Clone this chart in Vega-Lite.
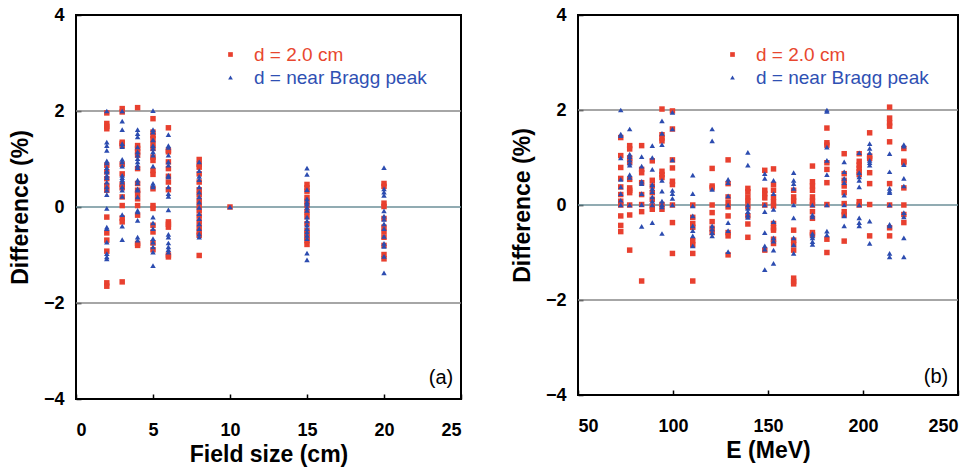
{
  "$schema": "https://vega.github.io/schema/vega-lite/v6.json",
  "background": "white",
  "padding": {"left": 8, "top": 5, "right": 5, "bottom": 5},
  "spacing": 47,
  "config": {
    "font": "Liberation Sans",
    "view": {"stroke": "black", "strokeWidth": 2},
    "axis": {"grid": false, "domain": false, "ticks": true, "tickSize": -5, "tickColor": "black", "tickWidth": 1.5,
      "labelFont": "Liberation Sans", "labelFontWeight": "bold", "labelFontSize": 18, "labelColor": "black",
      "titleFont": "Liberation Sans", "titleFontWeight": "bold", "titleFontSize": 23, "titleColor": "black"},
    "axisX": {"labelPadding": 27, "titlePadding": 4},
    "axisY": {"labelPadding": 17, "titlePadding": 11},
    "legend": {"orient": "none", "legendX": 145, "legendY": 30, "padding": 0, "title": null, "labelFont": "Liberation Sans",
      "labelFontSize": 19, "labelOffset": 14, "labelLimit": 400, "rowPadding": 3, "symbolSize": 22, "symbolStrokeWidth": 0,
      "labelColor": {"expr": "datum.value == '2.0 cm' ? '#e8472f' : '#2f50b3'"}}
  },
  "datasets": {
    "ref": [{"y": -2}, {"y": 0}, {"y": 2}],
    "fs": [
      {"f":2,"d":1.96,"s":"2.0 cm"},{"f":2,"d":1.74,"s":"2.0 cm"},{"f":2,"d":1.68,"s":"2.0 cm"},{"f":2,"d":1.63,"s":"2.0 cm"},{"f":2,"d":0.87,"s":"2.0 cm"},{"f":2,"d":0.73,"s":"2.0 cm"},{"f":2,"d":0.59,"s":"2.0 cm"},{"f":2,"d":0.45,"s":"2.0 cm"},{"f":2,"d":0.35,"s":"2.0 cm"},{"f":2,"d":-0.21,"s":"2.0 cm"},{"f":2,"d":-0.54,"s":"2.0 cm"},{"f":2,"d":-0.69,"s":"2.0 cm"},{"f":2,"d":-0.92,"s":"2.0 cm"},{"f":2,"d":-1.58,"s":"2.0 cm"},{"f":2,"d":-1.65,"s":"2.0 cm"},
      {"f":3,"d":2.05,"s":"2.0 cm"},{"f":3,"d":1.98,"s":"2.0 cm"},{"f":3,"d":1.35,"s":"2.0 cm"},{"f":3,"d":1.32,"s":"2.0 cm"},{"f":3,"d":1.28,"s":"2.0 cm"},{"f":3,"d":0.89,"s":"2.0 cm"},{"f":3,"d":0.69,"s":"2.0 cm"},{"f":3,"d":0.47,"s":"2.0 cm"},{"f":3,"d":0.40,"s":"2.0 cm"},{"f":3,"d":0.21,"s":"2.0 cm"},{"f":3,"d":0.03,"s":"2.0 cm"},{"f":3,"d":-0.23,"s":"2.0 cm"},{"f":3,"d":-0.31,"s":"2.0 cm"},{"f":3,"d":-1.56,"s":"2.0 cm"},
      {"f":4,"d":2.07,"s":"2.0 cm"},{"f":4,"d":1.28,"s":"2.0 cm"},{"f":4,"d":1.22,"s":"2.0 cm"},{"f":4,"d":1.15,"s":"2.0 cm"},{"f":4,"d":1.08,"s":"2.0 cm"},{"f":4,"d":0.80,"s":"2.0 cm"},{"f":4,"d":0.49,"s":"2.0 cm"},{"f":4,"d":0.35,"s":"2.0 cm"},{"f":4,"d":0.28,"s":"2.0 cm"},{"f":4,"d":0.17,"s":"2.0 cm"},{"f":4,"d":0.03,"s":"2.0 cm"},{"f":4,"d":-0.17,"s":"2.0 cm"},{"f":4,"d":-0.76,"s":"2.0 cm"},{"f":4,"d":-0.80,"s":"2.0 cm"},
      {"f":5,"d":1.84,"s":"2.0 cm"},{"f":5,"d":1.56,"s":"2.0 cm"},{"f":5,"d":1.49,"s":"2.0 cm"},{"f":5,"d":1.42,"s":"2.0 cm"},{"f":5,"d":1.32,"s":"2.0 cm"},{"f":5,"d":1.22,"s":"2.0 cm"},{"f":5,"d":1.04,"s":"2.0 cm"},{"f":5,"d":0.97,"s":"2.0 cm"},{"f":5,"d":0.76,"s":"2.0 cm"},{"f":5,"d":0.68,"s":"2.0 cm"},{"f":5,"d":0.38,"s":"2.0 cm"},{"f":5,"d":0.03,"s":"2.0 cm"},{"f":5,"d":-0.03,"s":"2.0 cm"},{"f":5,"d":-0.38,"s":"2.0 cm"},{"f":5,"d":-0.52,"s":"2.0 cm"},{"f":5,"d":-0.75,"s":"2.0 cm"},{"f":5,"d":-0.89,"s":"2.0 cm"},
      {"f":6,"d":1.65,"s":"2.0 cm"},{"f":6,"d":1.18,"s":"2.0 cm"},{"f":6,"d":1.15,"s":"2.0 cm"},{"f":6,"d":0.94,"s":"2.0 cm"},{"f":6,"d":0.80,"s":"2.0 cm"},{"f":6,"d":0.64,"s":"2.0 cm"},{"f":6,"d":0.52,"s":"2.0 cm"},{"f":6,"d":0.36,"s":"2.0 cm"},{"f":6,"d":-0.31,"s":"2.0 cm"},{"f":6,"d":-0.36,"s":"2.0 cm"},{"f":6,"d":-0.42,"s":"2.0 cm"},{"f":6,"d":-1.00,"s":"2.0 cm"},{"f":6,"d":-1.04,"s":"2.0 cm"},
      {"f":8,"d":0.99,"s":"2.0 cm"},{"f":8,"d":0.89,"s":"2.0 cm"},{"f":8,"d":0.83,"s":"2.0 cm"},{"f":8,"d":0.69,"s":"2.0 cm"},{"f":8,"d":0.52,"s":"2.0 cm"},{"f":8,"d":0.36,"s":"2.0 cm"},{"f":8,"d":0.26,"s":"2.0 cm"},{"f":8,"d":0.14,"s":"2.0 cm"},{"f":8,"d":0.03,"s":"2.0 cm"},{"f":8,"d":-0.07,"s":"2.0 cm"},{"f":8,"d":-0.19,"s":"2.0 cm"},{"f":8,"d":-0.31,"s":"2.0 cm"},{"f":8,"d":-0.42,"s":"2.0 cm"},{"f":8,"d":-0.52,"s":"2.0 cm"},{"f":8,"d":-0.59,"s":"2.0 cm"},{"f":8,"d":-1.01,"s":"2.0 cm"},
      {"f":10,"d":0,"s":"2.0 cm"},
      {"f":15,"d":0.47,"s":"2.0 cm"},{"f":15,"d":0.40,"s":"2.0 cm"},{"f":15,"d":0.33,"s":"2.0 cm"},{"f":15,"d":0.20,"s":"2.0 cm"},{"f":15,"d":0.12,"s":"2.0 cm"},{"f":15,"d":0.03,"s":"2.0 cm"},{"f":15,"d":-0.10,"s":"2.0 cm"},{"f":15,"d":-0.20,"s":"2.0 cm"},{"f":15,"d":-0.35,"s":"2.0 cm"},{"f":15,"d":-0.49,"s":"2.0 cm"},{"f":15,"d":-0.56,"s":"2.0 cm"},{"f":15,"d":-0.63,"s":"2.0 cm"},{"f":15,"d":-0.70,"s":"2.0 cm"},{"f":15,"d":-0.78,"s":"2.0 cm"},
      {"f":20,"d":0.49,"s":"2.0 cm"},{"f":20,"d":0.43,"s":"2.0 cm"},{"f":20,"d":0.08,"s":"2.0 cm"},{"f":20,"d":0.01,"s":"2.0 cm"},{"f":20,"d":-0.24,"s":"2.0 cm"},{"f":20,"d":-0.42,"s":"2.0 cm"},{"f":20,"d":-0.52,"s":"2.0 cm"},{"f":20,"d":-0.63,"s":"2.0 cm"},{"f":20,"d":-0.80,"s":"2.0 cm"},{"f":20,"d":-0.99,"s":"2.0 cm"},{"f":20,"d":-1.08,"s":"2.0 cm"},
      {"f":2,"d":2.0,"s":"near Bragg peak"},{"f":2,"d":1.35,"s":"near Bragg peak"},{"f":2,"d":1.28,"s":"near Bragg peak"},{"f":2,"d":1.18,"s":"near Bragg peak"},{"f":2,"d":0.96,"s":"near Bragg peak"},{"f":2,"d":0.92,"s":"near Bragg peak"},{"f":2,"d":0.82,"s":"near Bragg peak"},{"f":2,"d":0.76,"s":"near Bragg peak"},{"f":2,"d":0.73,"s":"near Bragg peak"},{"f":2,"d":0.66,"s":"near Bragg peak"},{"f":2,"d":0.61,"s":"near Bragg peak"},{"f":2,"d":0.52,"s":"near Bragg peak"},{"f":2,"d":0.42,"s":"near Bragg peak"},{"f":2,"d":0.35,"s":"near Bragg peak"},{"f":2,"d":0.26,"s":"near Bragg peak"},{"f":2,"d":-0.03,"s":"near Bragg peak"},{"f":2,"d":-0.42,"s":"near Bragg peak"},{"f":2,"d":-0.45,"s":"near Bragg peak"},{"f":2,"d":-0.73,"s":"near Bragg peak"},{"f":2,"d":-0.97,"s":"near Bragg peak"},{"f":2,"d":-1.04,"s":"near Bragg peak"},{"f":2,"d":-1.08,"s":"near Bragg peak"},
      {"f":3,"d":2.0,"s":"near Bragg peak"},{"f":3,"d":1.79,"s":"near Bragg peak"},{"f":3,"d":1.61,"s":"near Bragg peak"},{"f":3,"d":1.32,"s":"near Bragg peak"},{"f":3,"d":1.26,"s":"near Bragg peak"},{"f":3,"d":0.99,"s":"near Bragg peak"},{"f":3,"d":0.94,"s":"near Bragg peak"},{"f":3,"d":0.85,"s":"near Bragg peak"},{"f":3,"d":0.66,"s":"near Bragg peak"},{"f":3,"d":0.61,"s":"near Bragg peak"},{"f":3,"d":0.57,"s":"near Bragg peak"},{"f":3,"d":0.52,"s":"near Bragg peak"},{"f":3,"d":0.42,"s":"near Bragg peak"},{"f":3,"d":0.35,"s":"near Bragg peak"},{"f":3,"d":0.22,"s":"near Bragg peak"},{"f":3,"d":-0.16,"s":"near Bragg peak"},{"f":3,"d":-0.40,"s":"near Bragg peak"},{"f":3,"d":-0.68,"s":"near Bragg peak"},
      {"f":4,"d":1.61,"s":"near Bragg peak"},{"f":4,"d":1.53,"s":"near Bragg peak"},{"f":4,"d":1.46,"s":"near Bragg peak"},{"f":4,"d":1.25,"s":"near Bragg peak"},{"f":4,"d":1.15,"s":"near Bragg peak"},{"f":4,"d":1.08,"s":"near Bragg peak"},{"f":4,"d":1.01,"s":"near Bragg peak"},{"f":4,"d":0.94,"s":"near Bragg peak"},{"f":4,"d":0.87,"s":"near Bragg peak"},{"f":4,"d":0.82,"s":"near Bragg peak"},{"f":4,"d":0.56,"s":"near Bragg peak"},{"f":4,"d":0.50,"s":"near Bragg peak"},{"f":4,"d":0.38,"s":"near Bragg peak"},{"f":4,"d":0.35,"s":"near Bragg peak"},{"f":4,"d":0.21,"s":"near Bragg peak"},{"f":4,"d":-0.07,"s":"near Bragg peak"},{"f":4,"d":-0.10,"s":"near Bragg peak"},{"f":4,"d":-0.28,"s":"near Bragg peak"},{"f":4,"d":-0.63,"s":"near Bragg peak"},{"f":4,"d":-0.69,"s":"near Bragg peak"},
      {"f":5,"d":2.01,"s":"near Bragg peak"},{"f":5,"d":1.61,"s":"near Bragg peak"},{"f":5,"d":1.56,"s":"near Bragg peak"},{"f":5,"d":1.40,"s":"near Bragg peak"},{"f":5,"d":1.28,"s":"near Bragg peak"},{"f":5,"d":1.22,"s":"near Bragg peak"},{"f":5,"d":1.15,"s":"near Bragg peak"},{"f":5,"d":1.08,"s":"near Bragg peak"},{"f":5,"d":0.85,"s":"near Bragg peak"},{"f":5,"d":0.49,"s":"near Bragg peak"},{"f":5,"d":0.45,"s":"near Bragg peak"},{"f":5,"d":0.42,"s":"near Bragg peak"},{"f":5,"d":-0.21,"s":"near Bragg peak"},{"f":5,"d":-0.33,"s":"near Bragg peak"},{"f":5,"d":-0.45,"s":"near Bragg peak"},{"f":5,"d":-0.66,"s":"near Bragg peak"},{"f":5,"d":-0.73,"s":"near Bragg peak"},{"f":5,"d":-0.83,"s":"near Bragg peak"},{"f":5,"d":-0.94,"s":"near Bragg peak"},{"f":5,"d":-1.22,"s":"near Bragg peak"},
      {"f":6,"d":1.51,"s":"near Bragg peak"},{"f":6,"d":1.28,"s":"near Bragg peak"},{"f":6,"d":1.24,"s":"near Bragg peak"},{"f":6,"d":1.08,"s":"near Bragg peak"},{"f":6,"d":0.94,"s":"near Bragg peak"},{"f":6,"d":0.87,"s":"near Bragg peak"},{"f":6,"d":0.66,"s":"near Bragg peak"},{"f":6,"d":0.63,"s":"near Bragg peak"},{"f":6,"d":0.42,"s":"near Bragg peak"},{"f":6,"d":0.28,"s":"near Bragg peak"},{"f":6,"d":0.22,"s":"near Bragg peak"},{"f":6,"d":-0.06,"s":"near Bragg peak"},{"f":6,"d":-0.57,"s":"near Bragg peak"},{"f":6,"d":-0.63,"s":"near Bragg peak"},{"f":6,"d":-0.75,"s":"near Bragg peak"},{"f":6,"d":-0.83,"s":"near Bragg peak"},{"f":6,"d":-0.89,"s":"near Bragg peak"},{"f":6,"d":-0.94,"s":"near Bragg peak"},
      {"f":8,"d":0.94,"s":"near Bragg peak"},{"f":8,"d":0.76,"s":"near Bragg peak"},{"f":8,"d":0.64,"s":"near Bragg peak"},{"f":8,"d":0.57,"s":"near Bragg peak"},{"f":8,"d":0.42,"s":"near Bragg peak"},{"f":8,"d":0.31,"s":"near Bragg peak"},{"f":8,"d":0.21,"s":"near Bragg peak"},{"f":8,"d":0.10,"s":"near Bragg peak"},{"f":8,"d":-0.01,"s":"near Bragg peak"},{"f":8,"d":-0.14,"s":"near Bragg peak"},{"f":8,"d":-0.24,"s":"near Bragg peak"},{"f":8,"d":-0.35,"s":"near Bragg peak"},{"f":8,"d":-0.45,"s":"near Bragg peak"},{"f":8,"d":-0.56,"s":"near Bragg peak"},{"f":8,"d":-0.63,"s":"near Bragg peak"},
      {"f":10,"d":0,"s":"near Bragg peak"},
      {"f":15,"d":0.81,"s":"near Bragg peak"},{"f":15,"d":0.68,"s":"near Bragg peak"},{"f":15,"d":0.36,"s":"near Bragg peak"},{"f":15,"d":0.17,"s":"near Bragg peak"},{"f":15,"d":0.10,"s":"near Bragg peak"},{"f":15,"d":0.06,"s":"near Bragg peak"},{"f":15,"d":-0.01,"s":"near Bragg peak"},{"f":15,"d":-0.07,"s":"near Bragg peak"},{"f":15,"d":-0.21,"s":"near Bragg peak"},{"f":15,"d":-0.29,"s":"near Bragg peak"},{"f":15,"d":-0.38,"s":"near Bragg peak"},{"f":15,"d":-0.45,"s":"near Bragg peak"},{"f":15,"d":-0.52,"s":"near Bragg peak"},{"f":15,"d":-0.59,"s":"near Bragg peak"},{"f":15,"d":-0.66,"s":"near Bragg peak"},{"f":15,"d":-0.96,"s":"near Bragg peak"},{"f":15,"d":-1.10,"s":"near Bragg peak"},
      {"f":20,"d":0.82,"s":"near Bragg peak"},{"f":20,"d":0.38,"s":"near Bragg peak"},{"f":20,"d":0.31,"s":"near Bragg peak"},{"f":20,"d":0.24,"s":"near Bragg peak"},{"f":20,"d":-0.08,"s":"near Bragg peak"},{"f":20,"d":-0.19,"s":"near Bragg peak"},{"f":20,"d":-0.26,"s":"near Bragg peak"},{"f":20,"d":-0.35,"s":"near Bragg peak"},{"f":20,"d":-0.45,"s":"near Bragg peak"},{"f":20,"d":-0.61,"s":"near Bragg peak"},{"f":20,"d":-0.76,"s":"near Bragg peak"},{"f":20,"d":-0.82,"s":"near Bragg peak"},{"f":20,"d":-1.03,"s":"near Bragg peak"},{"f":20,"d":-1.37,"s":"near Bragg peak"}
    ],
    "en": [
      {"e":72.5,"d":1.42,"s":"2.0 cm"},{"e":72.5,"d":1.04,"s":"2.0 cm"},{"e":72.5,"d":0.79,"s":"2.0 cm"},{"e":72.5,"d":0.56,"s":"2.0 cm"},{"e":72.5,"d":0.38,"s":"2.0 cm"},{"e":72.5,"d":0.22,"s":"2.0 cm"},{"e":72.5,"d":0.08,"s":"2.0 cm"},{"e":72.5,"d":0,"s":"2.0 cm"},{"e":72.5,"d":-0.23,"s":"2.0 cm"},{"e":72.5,"d":-0.43,"s":"2.0 cm"},{"e":72.5,"d":-0.56,"s":"2.0 cm"},
      {"e":77.2,"d":1.25,"s":"2.0 cm"},{"e":77.2,"d":1.18,"s":"2.0 cm"},{"e":77.2,"d":0.99,"s":"2.0 cm"},{"e":77.2,"d":0.9,"s":"2.0 cm"},{"e":77.2,"d":0.54,"s":"2.0 cm"},{"e":77.2,"d":0.36,"s":"2.0 cm"},{"e":77.2,"d":0.31,"s":"2.0 cm"},{"e":77.2,"d":0.26,"s":"2.0 cm"},{"e":77.2,"d":0,"s":"2.0 cm"},{"e":77.2,"d":-0.21,"s":"2.0 cm"},{"e":77.2,"d":-0.95,"s":"2.0 cm"},
      {"e":83.5,"d":1.25,"s":"2.0 cm"},{"e":83.5,"d":0.75,"s":"2.0 cm"},{"e":83.5,"d":0.68,"s":"2.0 cm"},{"e":83.5,"d":0.47,"s":"2.0 cm"},{"e":83.5,"d":0.22,"s":"2.0 cm"},{"e":83.5,"d":0.01,"s":"2.0 cm"},{"e":83.5,"d":-0.14,"s":"2.0 cm"},{"e":83.5,"d":-1.6,"s":"2.0 cm"},
      {"e":89.1,"d":0.93,"s":"2.0 cm"},{"e":89.1,"d":0.52,"s":"2.0 cm"},{"e":89.1,"d":0.4,"s":"2.0 cm"},{"e":89.1,"d":0.26,"s":"2.0 cm"},{"e":89.1,"d":0.12,"s":"2.0 cm"},{"e":89.1,"d":-0.02,"s":"2.0 cm"},{"e":89.1,"d":-0.09,"s":"2.0 cm"},
      {"e":94.2,"d":2.02,"s":"2.0 cm"},{"e":94.2,"d":1.48,"s":"2.0 cm"},{"e":94.2,"d":1.41,"s":"2.0 cm"},{"e":94.2,"d":1.35,"s":"2.0 cm"},{"e":94.2,"d":0.71,"s":"2.0 cm"},{"e":94.2,"d":0.64,"s":"2.0 cm"},{"e":94.2,"d":0.58,"s":"2.0 cm"},{"e":94.2,"d":0.01,"s":"2.0 cm"},{"e":94.2,"d":-0.09,"s":"2.0 cm"},
      {"e":99.7,"d":1.98,"s":"2.0 cm"},{"e":99.7,"d":1.6,"s":"2.0 cm"},{"e":99.7,"d":0.95,"s":"2.0 cm"},{"e":99.7,"d":0.78,"s":"2.0 cm"},{"e":99.7,"d":0.5,"s":"2.0 cm"},{"e":99.7,"d":0.43,"s":"2.0 cm"},{"e":99.7,"d":0,"s":"2.0 cm"},{"e":99.7,"d":-0.37,"s":"2.0 cm"},{"e":99.7,"d":-1.02,"s":"2.0 cm"},
      {"e":110.4,"d":0,"s":"2.0 cm"},{"e":110.4,"d":-0.26,"s":"2.0 cm"},{"e":110.4,"d":-0.39,"s":"2.0 cm"},{"e":110.4,"d":-0.47,"s":"2.0 cm"},{"e":110.4,"d":-0.75,"s":"2.0 cm"},{"e":110.4,"d":-0.84,"s":"2.0 cm"},{"e":110.4,"d":-1.02,"s":"2.0 cm"},{"e":110.4,"d":-1.6,"s":"2.0 cm"},
      {"e":120.6,"d":0.77,"s":"2.0 cm"},{"e":120.6,"d":0.4,"s":"2.0 cm"},{"e":120.6,"d":0.36,"s":"2.0 cm"},{"e":120.6,"d":0,"s":"2.0 cm"},{"e":120.6,"d":-0.16,"s":"2.0 cm"},{"e":120.6,"d":-0.35,"s":"2.0 cm"},{"e":120.6,"d":-0.49,"s":"2.0 cm"},{"e":120.6,"d":-0.58,"s":"2.0 cm"},
      {"e":129.0,"d":0.95,"s":"2.0 cm"},{"e":129.0,"d":0.45,"s":"2.0 cm"},{"e":129.0,"d":0.17,"s":"2.0 cm"},{"e":129.0,"d":0.05,"s":"2.0 cm"},{"e":129.0,"d":-0.04,"s":"2.0 cm"},{"e":129.0,"d":-0.23,"s":"2.0 cm"},{"e":129.0,"d":-0.58,"s":"2.0 cm"},{"e":129.0,"d":-0.65,"s":"2.0 cm"},{"e":129.0,"d":-1.05,"s":"2.0 cm"},
      {"e":139.4,"d":0.35,"s":"2.0 cm"},{"e":139.4,"d":0.28,"s":"2.0 cm"},{"e":139.4,"d":0.17,"s":"2.0 cm"},{"e":139.4,"d":0.08,"s":"2.0 cm"},{"e":139.4,"d":-0.04,"s":"2.0 cm"},{"e":139.4,"d":-0.23,"s":"2.0 cm"},{"e":139.4,"d":-0.4,"s":"2.0 cm"},{"e":139.4,"d":-0.68,"s":"2.0 cm"},
      {"e":148.3,"d":0.73,"s":"2.0 cm"},{"e":148.3,"d":0.31,"s":"2.0 cm"},{"e":148.3,"d":0.24,"s":"2.0 cm"},{"e":148.3,"d":0.15,"s":"2.0 cm"},{"e":148.3,"d":0,"s":"2.0 cm"},{"e":148.3,"d":-0.95,"s":"2.0 cm"},
      {"e":152.9,"d":0.76,"s":"2.0 cm"},{"e":152.9,"d":0.43,"s":"2.0 cm"},{"e":152.9,"d":0.31,"s":"2.0 cm"},{"e":152.9,"d":0.17,"s":"2.0 cm"},{"e":152.9,"d":0.07,"s":"2.0 cm"},{"e":152.9,"d":-0.02,"s":"2.0 cm"},{"e":152.9,"d":-0.39,"s":"2.0 cm"},{"e":152.9,"d":-0.48,"s":"2.0 cm"},{"e":152.9,"d":-0.53,"s":"2.0 cm"},{"e":152.9,"d":-0.72,"s":"2.0 cm"},{"e":152.9,"d":-0.81,"s":"2.0 cm"},
      {"e":163.5,"d":0.31,"s":"2.0 cm"},{"e":163.5,"d":0.17,"s":"2.0 cm"},{"e":163.5,"d":0.08,"s":"2.0 cm"},{"e":163.5,"d":-0.53,"s":"2.0 cm"},{"e":163.5,"d":-0.74,"s":"2.0 cm"},{"e":163.5,"d":-0.83,"s":"2.0 cm"},{"e":163.5,"d":-0.95,"s":"2.0 cm"},{"e":163.5,"d":-1.54,"s":"2.0 cm"},{"e":163.5,"d":-1.61,"s":"2.0 cm"},{"e":163.5,"d":-1.66,"s":"2.0 cm"},
      {"e":173.4,"d":0.82,"s":"2.0 cm"},{"e":173.4,"d":0.49,"s":"2.0 cm"},{"e":173.4,"d":0.4,"s":"2.0 cm"},{"e":173.4,"d":0.31,"s":"2.0 cm"},{"e":173.4,"d":0.17,"s":"2.0 cm"},{"e":173.4,"d":0.08,"s":"2.0 cm"},{"e":173.4,"d":0,"s":"2.0 cm"},{"e":173.4,"d":-0.14,"s":"2.0 cm"},{"e":173.4,"d":-0.28,"s":"2.0 cm"},{"e":173.4,"d":-0.58,"s":"2.0 cm"},{"e":173.4,"d":-0.63,"s":"2.0 cm"},
      {"e":181.0,"d":1.62,"s":"2.0 cm"},{"e":181.0,"d":1.31,"s":"2.0 cm"},{"e":181.0,"d":1.26,"s":"2.0 cm"},{"e":181.0,"d":0.89,"s":"2.0 cm"},{"e":181.0,"d":0.75,"s":"2.0 cm"},{"e":181.0,"d":0.47,"s":"2.0 cm"},{"e":181.0,"d":0.01,"s":"2.0 cm"},{"e":181.0,"d":-0.72,"s":"2.0 cm"},{"e":181.0,"d":-1.0,"s":"2.0 cm"},
      {"e":190.1,"d":1.08,"s":"2.0 cm"},{"e":190.1,"d":0.66,"s":"2.0 cm"},{"e":190.1,"d":0.52,"s":"2.0 cm"},{"e":190.1,"d":0.4,"s":"2.0 cm"},{"e":190.1,"d":0.26,"s":"2.0 cm"},{"e":190.1,"d":0.03,"s":"2.0 cm"},{"e":190.1,"d":-0.14,"s":"2.0 cm"},{"e":190.1,"d":-0.21,"s":"2.0 cm"},{"e":190.1,"d":-0.76,"s":"2.0 cm"},
      {"e":198.0,"d":1.08,"s":"2.0 cm"},{"e":198.0,"d":0.92,"s":"2.0 cm"},{"e":198.0,"d":0.84,"s":"2.0 cm"},{"e":198.0,"d":0.77,"s":"2.0 cm"},{"e":198.0,"d":0.7,"s":"2.0 cm"},{"e":198.0,"d":0.64,"s":"2.0 cm"},{"e":198.0,"d":0.07,"s":"2.0 cm"},{"e":198.0,"d":0,"s":"2.0 cm"},
      {"e":203.5,"d":1.52,"s":"2.0 cm"},{"e":203.5,"d":1.03,"s":"2.0 cm"},{"e":203.5,"d":0.98,"s":"2.0 cm"},{"e":203.5,"d":0.68,"s":"2.0 cm"},{"e":203.5,"d":0.45,"s":"2.0 cm"},{"e":203.5,"d":0.01,"s":"2.0 cm"},{"e":203.5,"d":-0.65,"s":"2.0 cm"},
      {"e":214.0,"d":2.06,"s":"2.0 cm"},{"e":214.0,"d":1.83,"s":"2.0 cm"},{"e":214.0,"d":1.73,"s":"2.0 cm"},{"e":214.0,"d":1.66,"s":"2.0 cm"},{"e":214.0,"d":1.33,"s":"2.0 cm"},{"e":214.0,"d":0.45,"s":"2.0 cm"},{"e":214.0,"d":0,"s":"2.0 cm"},{"e":214.0,"d":-0.48,"s":"2.0 cm"},{"e":214.0,"d":-0.65,"s":"2.0 cm"},
      {"e":221.5,"d":1.19,"s":"2.0 cm"},{"e":221.5,"d":0.92,"s":"2.0 cm"},{"e":221.5,"d":0.89,"s":"2.0 cm"},{"e":221.5,"d":0.36,"s":"2.0 cm"},{"e":221.5,"d":0,"s":"2.0 cm"},{"e":221.5,"d":-0.2,"s":"2.0 cm"},{"e":221.5,"d":-0.37,"s":"2.0 cm"},
      {"e":72.5,"d":2.0,"s":"near Bragg peak"},{"e":72.5,"d":1.49,"s":"near Bragg peak"},{"e":72.5,"d":1.46,"s":"near Bragg peak"},{"e":72.5,"d":0.99,"s":"near Bragg peak"},{"e":72.5,"d":0.54,"s":"near Bragg peak"},{"e":72.5,"d":0.38,"s":"near Bragg peak"},{"e":72.5,"d":0.24,"s":"near Bragg peak"},{"e":72.5,"d":0.1,"s":"near Bragg peak"},{"e":72.5,"d":0,"s":"near Bragg peak"},
      {"e":77.2,"d":1.6,"s":"near Bragg peak"},{"e":77.2,"d":1.07,"s":"near Bragg peak"},{"e":77.2,"d":1.02,"s":"near Bragg peak"},{"e":77.2,"d":0.95,"s":"near Bragg peak"},{"e":77.2,"d":0.88,"s":"near Bragg peak"},{"e":77.2,"d":0.84,"s":"near Bragg peak"},{"e":77.2,"d":0.64,"s":"near Bragg peak"},{"e":77.2,"d":0.58,"s":"near Bragg peak"},{"e":77.2,"d":0,"s":"near Bragg peak"},
      {"e":83.5,"d":1.02,"s":"near Bragg peak"},{"e":83.5,"d":0.82,"s":"near Bragg peak"},{"e":83.5,"d":0.5,"s":"near Bragg peak"},{"e":83.5,"d":0.45,"s":"near Bragg peak"},{"e":83.5,"d":0.24,"s":"near Bragg peak"},{"e":83.5,"d":0.01,"s":"near Bragg peak"},{"e":83.5,"d":-0.45,"s":"near Bragg peak"},
      {"e":89.1,"d":1.25,"s":"near Bragg peak"},{"e":89.1,"d":1.0,"s":"near Bragg peak"},{"e":89.1,"d":0.75,"s":"near Bragg peak"},{"e":89.1,"d":0.43,"s":"near Bragg peak"},{"e":89.1,"d":0.35,"s":"near Bragg peak"},{"e":89.1,"d":0.28,"s":"near Bragg peak"},{"e":89.1,"d":0.17,"s":"near Bragg peak"},{"e":89.1,"d":0.08,"s":"near Bragg peak"},{"e":89.1,"d":0,"s":"near Bragg peak"},{"e":89.1,"d":-0.37,"s":"near Bragg peak"},
      {"e":94.2,"d":1.77,"s":"near Bragg peak"},{"e":94.2,"d":1.51,"s":"near Bragg peak"},{"e":94.2,"d":1.27,"s":"near Bragg peak"},{"e":94.2,"d":0.52,"s":"near Bragg peak"},{"e":94.2,"d":0.29,"s":"near Bragg peak"},{"e":94.2,"d":0.08,"s":"near Bragg peak"},{"e":94.2,"d":0.01,"s":"near Bragg peak"},{"e":94.2,"d":-0.04,"s":"near Bragg peak"},{"e":94.2,"d":-0.6,"s":"near Bragg peak"},
      {"e":99.7,"d":1.95,"s":"near Bragg peak"},{"e":99.7,"d":1.6,"s":"near Bragg peak"},{"e":99.7,"d":0.95,"s":"near Bragg peak"},{"e":99.7,"d":0.31,"s":"near Bragg peak"},{"e":99.7,"d":0.24,"s":"near Bragg peak"},{"e":99.7,"d":0.14,"s":"near Bragg peak"},{"e":99.7,"d":0,"s":"near Bragg peak"},
      {"e":110.4,"d":0.63,"s":"near Bragg peak"},{"e":110.4,"d":0.24,"s":"near Bragg peak"},{"e":110.4,"d":-0.02,"s":"near Bragg peak"},{"e":110.4,"d":-0.23,"s":"near Bragg peak"},{"e":110.4,"d":-0.44,"s":"near Bragg peak"},{"e":110.4,"d":-0.54,"s":"near Bragg peak"},{"e":110.4,"d":-0.65,"s":"near Bragg peak"},{"e":110.4,"d":-0.86,"s":"near Bragg peak"},
      {"e":120.6,"d":1.6,"s":"near Bragg peak"},{"e":120.6,"d":1.35,"s":"near Bragg peak"},{"e":120.6,"d":0.33,"s":"near Bragg peak"},{"e":120.6,"d":-0.44,"s":"near Bragg peak"},{"e":120.6,"d":-0.51,"s":"near Bragg peak"},{"e":120.6,"d":-0.58,"s":"near Bragg peak"},{"e":120.6,"d":-0.65,"s":"near Bragg peak"},
      {"e":129.0,"d":0.54,"s":"near Bragg peak"},{"e":129.0,"d":0.47,"s":"near Bragg peak"},{"e":129.0,"d":0.19,"s":"near Bragg peak"},{"e":129.0,"d":0,"s":"near Bragg peak"},{"e":129.0,"d":-0.37,"s":"near Bragg peak"},{"e":129.0,"d":-0.54,"s":"near Bragg peak"},{"e":129.0,"d":-0.98,"s":"near Bragg peak"},
      {"e":139.4,"d":1.11,"s":"near Bragg peak"},{"e":139.4,"d":0.84,"s":"near Bragg peak"},{"e":139.4,"d":0,"s":"near Bragg peak"},{"e":139.4,"d":-0.07,"s":"near Bragg peak"},{"e":139.4,"d":-0.14,"s":"near Bragg peak"},{"e":139.4,"d":-0.21,"s":"near Bragg peak"},{"e":139.4,"d":-0.26,"s":"near Bragg peak"},
      {"e":148.3,"d":0.66,"s":"near Bragg peak"},{"e":148.3,"d":0.56,"s":"near Bragg peak"},{"e":148.3,"d":0,"s":"near Bragg peak"},{"e":148.3,"d":-0.14,"s":"near Bragg peak"},{"e":148.3,"d":-0.58,"s":"near Bragg peak"},{"e":148.3,"d":-0.86,"s":"near Bragg peak"},{"e":148.3,"d":-0.93,"s":"near Bragg peak"},{"e":148.3,"d":-1.36,"s":"near Bragg peak"},
      {"e":152.9,"d":0.52,"s":"near Bragg peak"},{"e":152.9,"d":0.24,"s":"near Bragg peak"},{"e":152.9,"d":-0.09,"s":"near Bragg peak"},{"e":152.9,"d":-0.35,"s":"near Bragg peak"},{"e":152.9,"d":-0.69,"s":"near Bragg peak"},{"e":152.9,"d":-0.76,"s":"near Bragg peak"},{"e":152.9,"d":-0.95,"s":"near Bragg peak"},{"e":152.9,"d":-1.23,"s":"near Bragg peak"},
      {"e":163.5,"d":0.68,"s":"near Bragg peak"},{"e":163.5,"d":0.52,"s":"near Bragg peak"},{"e":163.5,"d":0.45,"s":"near Bragg peak"},{"e":163.5,"d":0.35,"s":"near Bragg peak"},{"e":163.5,"d":0,"s":"near Bragg peak"},{"e":163.5,"d":-0.27,"s":"near Bragg peak"},{"e":163.5,"d":-0.69,"s":"near Bragg peak"},{"e":163.5,"d":-0.84,"s":"near Bragg peak"},{"e":163.5,"d":-1.02,"s":"near Bragg peak"},
      {"e":173.4,"d":0,"s":"near Bragg peak"},{"e":173.4,"d":-0.21,"s":"near Bragg peak"},{"e":173.4,"d":-0.25,"s":"near Bragg peak"},{"e":173.4,"d":-0.6,"s":"near Bragg peak"},{"e":173.4,"d":-0.65,"s":"near Bragg peak"},{"e":173.4,"d":-0.69,"s":"near Bragg peak"},{"e":173.4,"d":-0.77,"s":"near Bragg peak"},{"e":173.4,"d":-0.83,"s":"near Bragg peak"},
      {"e":181.0,"d":2.0,"s":"near Bragg peak"},{"e":181.0,"d":1.97,"s":"near Bragg peak"},{"e":181.0,"d":1.22,"s":"near Bragg peak"},{"e":181.0,"d":0.94,"s":"near Bragg peak"},{"e":181.0,"d":0.64,"s":"near Bragg peak"},{"e":181.0,"d":0,"s":"near Bragg peak"},{"e":181.0,"d":-0.55,"s":"near Bragg peak"},{"e":181.0,"d":-0.63,"s":"near Bragg peak"},
      {"e":190.1,"d":0.91,"s":"near Bragg peak"},{"e":190.1,"d":0.7,"s":"near Bragg peak"},{"e":190.1,"d":0.56,"s":"near Bragg peak"},{"e":190.1,"d":0.47,"s":"near Bragg peak"},{"e":190.1,"d":0.21,"s":"near Bragg peak"},{"e":190.1,"d":0,"s":"near Bragg peak"},{"e":190.1,"d":-0.23,"s":"near Bragg peak"},{"e":190.1,"d":-0.44,"s":"near Bragg peak"},
      {"e":198.0,"d":1.1,"s":"near Bragg peak"},{"e":198.0,"d":0.68,"s":"near Bragg peak"},{"e":198.0,"d":0.59,"s":"near Bragg peak"},{"e":198.0,"d":0.52,"s":"near Bragg peak"},{"e":198.0,"d":0.38,"s":"near Bragg peak"},{"e":198.0,"d":0,"s":"near Bragg peak"},{"e":198.0,"d":-0.27,"s":"near Bragg peak"},{"e":198.0,"d":-0.37,"s":"near Bragg peak"},{"e":198.0,"d":-0.44,"s":"near Bragg peak"},
      {"e":203.5,"d":1.29,"s":"near Bragg peak"},{"e":203.5,"d":1.19,"s":"near Bragg peak"},{"e":203.5,"d":1.1,"s":"near Bragg peak"},{"e":203.5,"d":0.94,"s":"near Bragg peak"},{"e":203.5,"d":0.89,"s":"near Bragg peak"},{"e":203.5,"d":0.84,"s":"near Bragg peak"},{"e":203.5,"d":-0.34,"s":"near Bragg peak"},{"e":203.5,"d":-0.81,"s":"near Bragg peak"},
      {"e":214.0,"d":1.08,"s":"near Bragg peak"},{"e":214.0,"d":0.7,"s":"near Bragg peak"},{"e":214.0,"d":0.35,"s":"near Bragg peak"},{"e":214.0,"d":0.29,"s":"near Bragg peak"},{"e":214.0,"d":0.26,"s":"near Bragg peak"},{"e":214.0,"d":0,"s":"near Bragg peak"},{"e":214.0,"d":-0.41,"s":"near Bragg peak"},{"e":214.0,"d":-0.44,"s":"near Bragg peak"},{"e":214.0,"d":-1.02,"s":"near Bragg peak"},{"e":214.0,"d":-1.09,"s":"near Bragg peak"},
      {"e":221.5,"d":1.27,"s":"near Bragg peak"},{"e":221.5,"d":1.24,"s":"near Bragg peak"},{"e":221.5,"d":0.85,"s":"near Bragg peak"},{"e":221.5,"d":0.56,"s":"near Bragg peak"},{"e":221.5,"d":0.4,"s":"near Bragg peak"},{"e":221.5,"d":-0.16,"s":"near Bragg peak"},{"e":221.5,"d":-0.25,"s":"near Bragg peak"},{"e":221.5,"d":-0.69,"s":"near Bragg peak"},{"e":221.5,"d":-1.09,"s":"near Bragg peak"}
    ]
  },
  "resolve": {"legend": {"color": "independent", "shape": "independent"}},
  "hconcat": [
    {
      "width": 385, "height": 384,
      "layer": [
        {"data": {"name": "ref"}, "mark": {"type": "rule", "strokeWidth": 1.5},
          "encoding": {
            "y": {"field": "y", "type": "quantitative", "scale": {"domain": [-4, 4], "nice": false}, "title": "Difference (%)", "axis": {"values": [-4, -2, 0, 2, 4]}},
            "color": {"condition": {"test": "datum.y == 0", "value": "#6c8f99"}, "value": "#888888"}
          }},
        {"data": {"name": "fs"}, "mark": {"type": "point", "filled": true, "opacity": 1, "size": 30},
          "encoding": {
            "x": {"field": "f", "type": "quantitative", "scale": {"domain": [0, 25], "nice": false}, "title": "Field size (cm)", "axis": {"values": [0, 5, 10, 15, 20, 25]}},
            "y": {"field": "d", "type": "quantitative", "scale": {"domain": [-4, 4], "nice": false}, "title": "Difference (%)", "axis": {"values": [-4, -2, 0, 2, 4]}},
            "color": {"field": "s", "type": "nominal", "scale": {"domain": ["2.0 cm", "near Bragg peak"], "range": ["#e8402f", "#2c4cb0"]},
              "legend": {"labelExpr": "'d = ' + datum.label"}},
            "shape": {"field": "s", "type": "nominal", "scale": {"domain": ["2.0 cm", "near Bragg peak"], "range": ["square", "triangle-up"]},
              "legend": {"labelExpr": "'d = ' + datum.label"}}
          }},
        {"data": {"values": [{}]}, "mark": {"type": "text", "fontSize": 20, "font": "Liberation Sans", "color": "black", "align": "center", "baseline": "middle"},
          "encoding": {"x": {"datum": 23.7}, "y": {"datum": -3.57}, "text": {"value": "(a)"}}}
      ]
    },
    {
      "width": 380, "height": 380,
      "layer": [
        {"data": {"name": "ref"}, "mark": {"type": "rule", "strokeWidth": 1.5},
          "encoding": {
            "y": {"field": "y", "type": "quantitative", "scale": {"domain": [-4, 4], "nice": false}, "title": "Difference (%)", "axis": {"values": [-4, -2, 0, 2, 4]}},
            "color": {"condition": {"test": "datum.y == 0", "value": "#6c8f99"}, "value": "#888888"}
          }},
        {"data": {"name": "en"}, "mark": {"type": "point", "filled": true, "opacity": 1, "size": 30},
          "encoding": {
            "x": {"field": "e", "type": "quantitative", "scale": {"domain": [50, 250], "nice": false}, "title": "E (MeV)", "axis": {"values": [50, 100, 150, 200, 250]}},
            "y": {"field": "d", "type": "quantitative", "scale": {"domain": [-4, 4], "nice": false}, "title": "Difference (%)", "axis": {"values": [-4, -2, 0, 2, 4]}},
            "color": {"field": "s", "type": "nominal", "scale": {"domain": ["2.0 cm", "near Bragg peak"], "range": ["#e8402f", "#2c4cb0"]},
              "legend": {"labelExpr": "'d = ' + datum.label"}},
            "shape": {"field": "s", "type": "nominal", "scale": {"domain": ["2.0 cm", "near Bragg peak"], "range": ["square", "triangle-up"]},
              "legend": {"labelExpr": "'d = ' + datum.label"}}
          }},
        {"data": {"values": [{}]}, "mark": {"type": "text", "fontSize": 20, "font": "Liberation Sans", "color": "black", "align": "center", "baseline": "middle"},
          "encoding": {"x": {"datum": 238.4}, "y": {"datum": -3.62}, "text": {"value": "(b)"}}}
      ]
    }
  ]
}
